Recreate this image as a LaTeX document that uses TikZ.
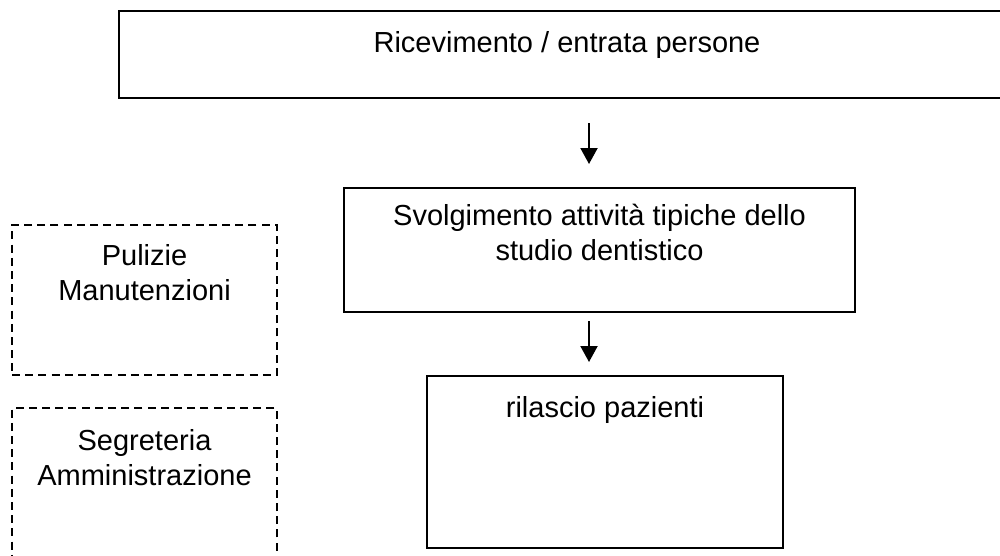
\documentclass[tikz,border=0pt]{standalone}
\usepackage{fontspec}
\setmainfont{Liberation Sans}
\usetikzlibrary{positioning, arrows.meta}

\newcommand{\lblfont}{\fontsize{14.5}{17.4}\selectfont}
\tikzset{
    procbox/.style={draw, line width=1pt, inner sep=0pt},
    supbox/.style={draw, line width=0.9pt, dash pattern=on 4pt off 2.6pt, inner sep=0pt},
    lbl/.style={font=\lblfont, align=center, inner sep=0pt},
    flow/.style={line width=1pt, -{Triangle[width=8.5pt, length=8pt]}}
}
\newcommand{\pn}{\node[procbox]}
\newcommand{\sn}{\node[supbox]}
\newcommand{\tn}{\node[lbl]}

\begin{document}
\begin{tikzpicture}[x=0.5pt, y=-0.5pt]
            \path[use as bounding box, clip] (0,0) rectangle (1000,556);

            \pn[minimum width=448pt, minimum height=43.5pt] (entrata) at (567, 54.5) {};
            \pn[minimum width=255.5pt, minimum height=62pt] (attivita) at (599.5, 250) {};
            \pn[minimum width=178pt, minimum height=86pt] (rilascio) at (605, 462) {};
            \sn[minimum width=132.5pt, minimum height=75pt] (pulizie) at (144.5, 300) {};
            \sn[minimum width=132.5pt, minimum height=84pt] (segreteria) at (144.5, 492) {};

            \tn[below=10.5pt of entrata.north] (tentrata) {Ricevimento / entrata persone};
            \tn[below=8.5pt of attivita.north] (tattivita) {Svolgimento attività tipiche dello\\studio dentistico};
            \tn[below=10.5pt of rilascio.north] (trilascio) {rilascio pazienti};
            \tn[below=10pt of pulizie.north] (tpulizie) {Pulizie\\Manutenzioni};
            \tn[below=11pt of segreteria.north] (tsegreteria) {Segreteria\\Amministrazione};

            \coordinate (ax) at (589, 0);

            \draw[flow, shorten <=12pt, shorten >=11.5pt]
                (entrata.south -| ax) -- (attivita.north -| ax);
            \draw[flow, shorten <=4pt, shorten >=6.5pt]
                (attivita.south -| ax) -- (rilascio.north -| ax);
        \end{tikzpicture}
\end{document}
